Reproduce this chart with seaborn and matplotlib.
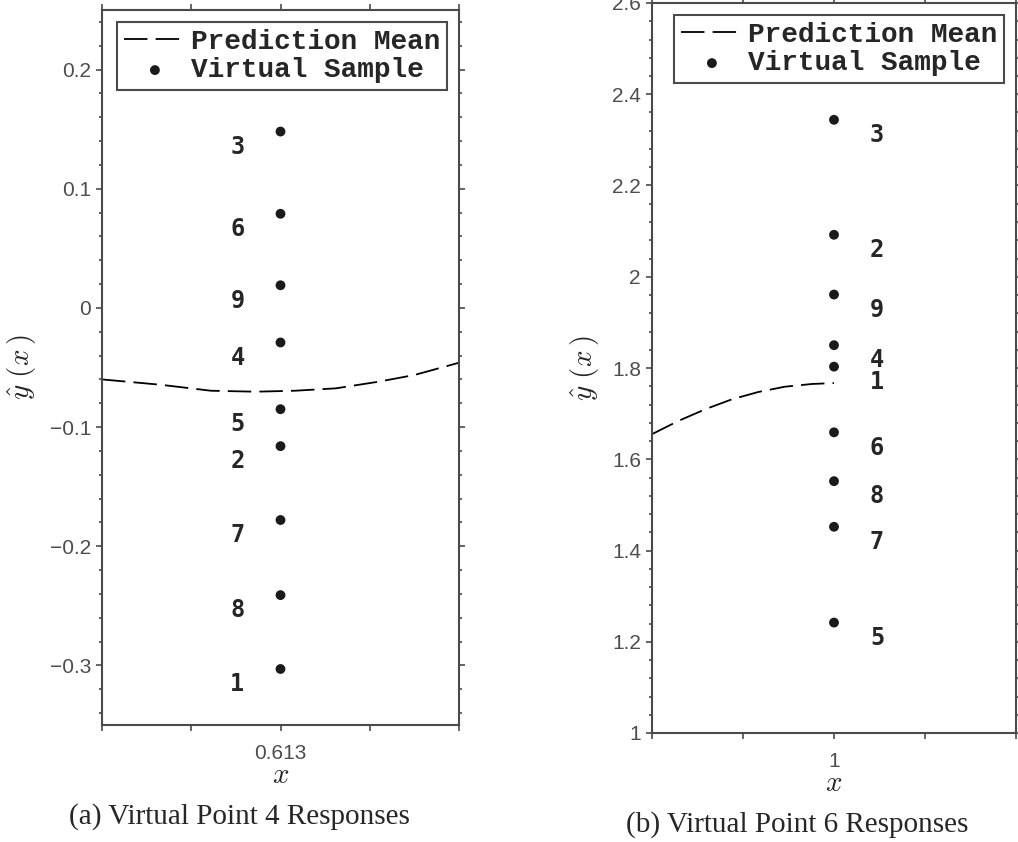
import matplotlib
matplotlib.use('Agg')
import matplotlib.pyplot as plt
from matplotlib.ticker import MultipleLocator, FixedLocator, FixedFormatter
from matplotlib.font_manager import FontProperties
import seaborn as sns
import numpy as np

sns.set_theme(style='ticks')
plt.rcParams['font.family'] = ['Liberation Sans', 'DejaVu Sans']
plt.rcParams['mathtext.fontset'] = 'cm'

# ---- 데이터 ----
# (a) Virtual Point 4
a_x0 = 0.613
a_ids = ['3', '6', '9', '4', '5', '2', '7', '8', '1']
a_vals = [0.148, 0.079, 0.019, -0.029, -0.085, -0.116, -0.178, -0.241, -0.303]
a_curve_x = [0.513, 0.546, 0.574, 0.599, 0.621, 0.644, 0.668, 0.688, 0.713]
a_curve_y = [-0.060, -0.0645, -0.0695, -0.0703, -0.0695, -0.0675, -0.0619, -0.0563, -0.0460]
a_xticks = [0.513, 0.563, 0.613, 0.663, 0.713]
a_xticklabels = ['', '', '0.613', '', '']
a_yticks = [-0.3, -0.2, -0.1, 0.0, 0.1, 0.2]
a_yticklabels = ['\u22120.3', '\u22120.2', '\u22120.1', '0', '0.1', '0.2']

# (b) Virtual Point 6
b_x0 = 1.0
b_ids = ['3', '2', '9', '4', '1', '6', '8', '7', '5']
b_vals = [2.344, 2.092, 1.961, 1.850, 1.803, 1.659, 1.552, 1.452, 1.242]
b_curve_x = [0.800, 0.829, 0.859, 0.888, 0.917, 0.946, 0.976, 1.000]
b_curve_y = [1.655, 1.684, 1.710, 1.7315, 1.7475, 1.759, 1.765, 1.767]
b_xticks = [0.8, 0.9, 1.0, 1.1, 1.2]
b_xticklabels = ['', '', '1', '', '']
b_yticks = [1.0, 1.2, 1.4, 1.6, 1.8, 2.0, 2.2, 2.4, 2.6]
b_yticklabels = ['1', '1.2', '1.4', '1.6', '1.8', '2', '2.2', '2.4', '2.6']

captions = ['(a) Virtual Point 4 Responses', '(b) Virtual Point 6 Responses']

W, H = 1018, 842
fig = plt.figure(figsize=(W / 100, H / 100), dpi=100)
ax1 = fig.add_axes([102 / W, 1 - 725 / H, 357 / W, 715 / H])
ax2 = fig.add_axes([652 / W, 1 - 733 / H, 364 / W, 730 / H])

spine_c = '#4a4a4a'
dot_c = '#1a1a1a'
leg_font = FontProperties(family='Liberation Mono', weight='bold', size=20)


def draw(ax, x0, ids, vals, cx, cy, xlim, ylim, xt, xtl, yt, ytl, yminor, side):
    sns.lineplot(x=cx, y=cy, ax=ax, color='black', lw=1.3,
                 linestyle=(0, (13, 4.5)), label='Prediction Mean', sort=False)
    sns.scatterplot(x=[x0] * len(vals), y=vals, ax=ax, color=dot_c, s=50,
                    edgecolor='none', label='Virtual Sample', zorder=3)
    for lab, v in zip(ids, vals):
        ax.annotate(lab, (x0, v), xytext=(31 * side, -11), textcoords='offset points',
                    ha='center', va='center', fontsize=17, fontweight='bold',
                    family='DejaVu Sans Mono')
    ax.set_xlim(*xlim)
    ax.set_ylim(*ylim)
    ax.xaxis.set_major_locator(FixedLocator(xt))
    ax.xaxis.set_major_formatter(FixedFormatter(xtl))
    ax.yaxis.set_major_locator(FixedLocator(yt))
    ax.yaxis.set_major_formatter(FixedFormatter(ytl))
    ax.yaxis.set_minor_locator(MultipleLocator(yminor))
    ax.tick_params(which='both', direction='out', top=True, right=True,
                   color=spine_c, width=1.2, labelcolor='#4d4d4d', labelsize=15)
    ax.tick_params(which='major', length=4)
    ax.tick_params(which='minor', length=2.5)
    ax.tick_params(axis='x', pad=10)
    ax.tick_params(axis='y', pad=4)
    for s in ax.spines.values():
        s.set_color(spine_c)
        s.set_linewidth(1.5)
        s.set_visible(True)
    ax.set_xlabel(r'$x$', fontsize=21, labelpad=-2)
    ax.set_ylabel(r'$\hat{y}\ (x\,)$', fontsize=21, labelpad=8)
    ax.legend(loc='upper right', prop=leg_font, frameon=True, fancybox=False,
              edgecolor=spine_c, framealpha=1, borderaxespad=0.42, borderpad=0.25,
              labelspacing=0.1, handlelength=2.2, handletextpad=0.2).get_frame().set_linewidth(1.5)


draw(ax1, a_x0, a_ids, a_vals, a_curve_x, a_curve_y, (0.513, 0.713), (-0.35, 0.25),
     a_xticks, a_xticklabels, a_yticks, a_yticklabels, 0.02, -1)
draw(ax2, b_x0, b_ids, b_vals, b_curve_x, b_curve_y, (0.8, 1.2), (1.0, 2.6),
     b_xticks, b_xticklabels, b_yticks, b_yticklabels, 0.04, 1)

fig.text(239 / W, 1 - 817 / H, captions[0], ha='center', va='center',
         fontsize=21, family='Liberation Serif')
fig.text(797 / W, 1 - 825 / H, captions[1], ha='center', va='center',
         fontsize=21, family='Liberation Serif')

fig.savefig('out.png', dpi=100)
